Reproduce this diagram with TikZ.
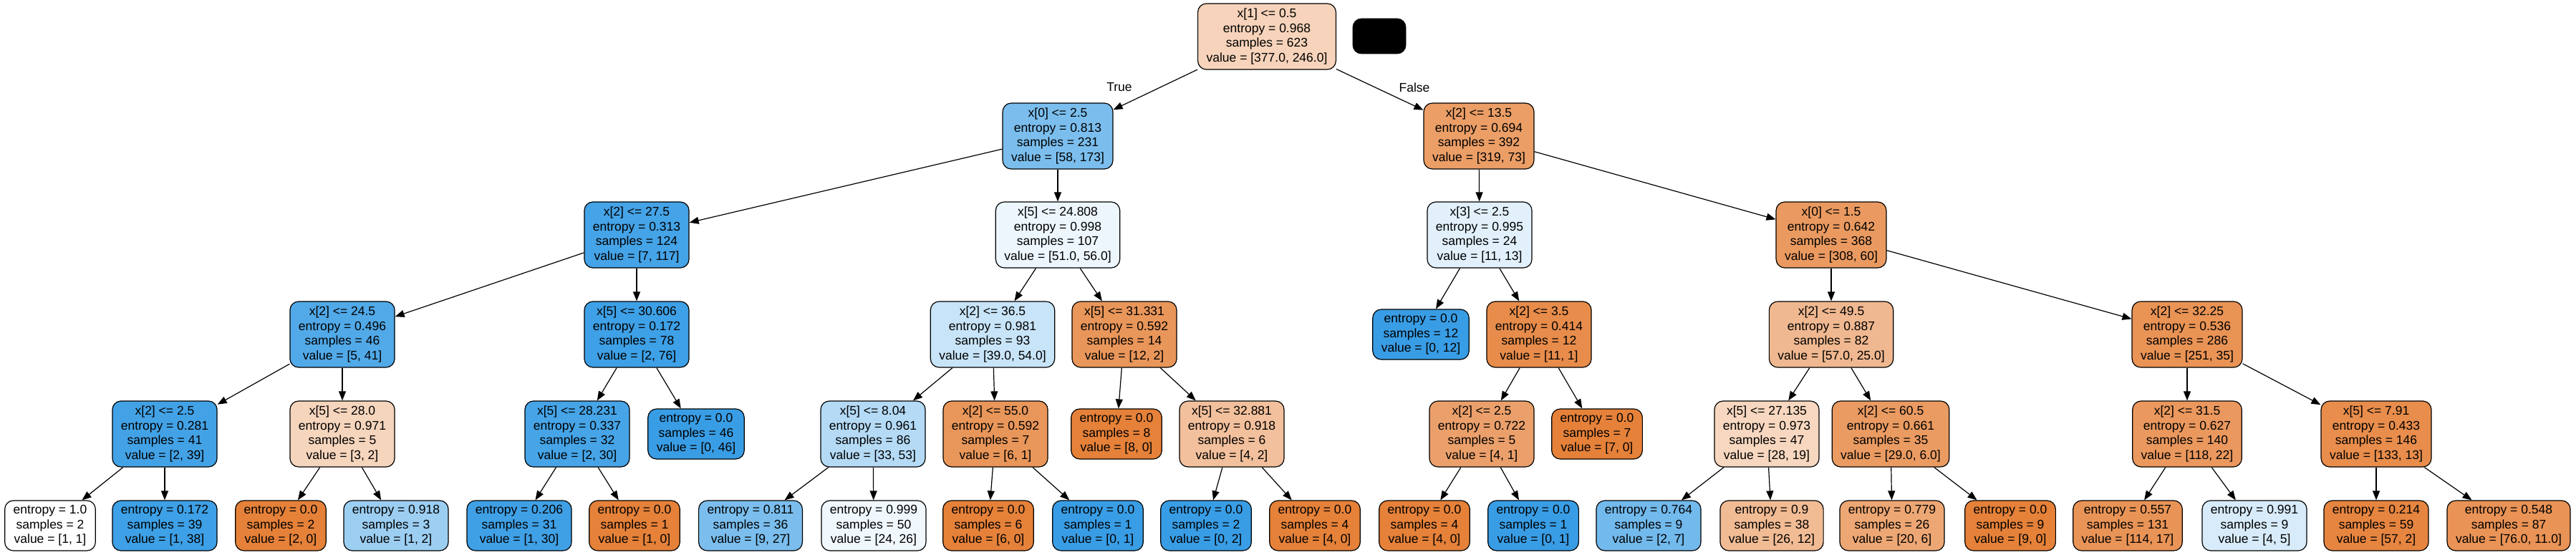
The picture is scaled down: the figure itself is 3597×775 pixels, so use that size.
\documentclass[tikz,border=0pt]{standalone}
\usepackage{fontspec}
\setmainfont{Liberation Sans}
\usetikzlibrary{arrows.meta}
\definecolor{co}{RGB}{229,129,57}
\definecolor{cb}{RGB}{57,157,229}
\begin{document}
\begin{tikzpicture}[x=0.5pt,y=-0.5pt,
  tn/.style={draw=black, line width=0.6pt, rounded corners=6pt, align=center,
    font=\fontsize{8.75pt}{10.2pt}\selectfont, inner xsep=6pt, inner ysep=0pt},
  inode/.style={tn, minimum height=46pt},
  leaf/.style={tn, minimum height=35pt},
  lbl/.style={font=\fontsize{8.75pt}{10.2pt}\selectfont, inner sep=0pt},
  conn/.style={-{Triangle[length=6.5pt,width=5pt]}, line width=0.6pt}]
\useasboundingbox (0,0) rectangle (3597,775);
% level 0
\node[inode, fill=co!34.7!white] (r) at (1769,51) {x[1] <= 0.5\\entropy = 0.968\\samples = 623\\value = [377.0, 246.0]};
\node[fill=black, draw=black, rounded corners=6pt, minimum width=37pt, minimum height=24.5pt, inner sep=0pt] (blk) at (1926,50.5) {};
\node[lbl] (tl) at (1563,122) {True};
\node[lbl] (fl) at (1975,122) {False};
% level 1
\node[inode, fill=cb!66.5!white] (A) at (1477,190) {x[0] <= 2.5\\entropy = 0.813\\samples = 231\\value = [58, 173]};
\node[inode, fill=co!77.1!white] (B) at (2065,190) {x[2] <= 13.5\\entropy = 0.694\\samples = 392\\value = [319, 73]};
% level 2
\node[inode, fill=cb!94!white] (A1) at (889,328) {x[2] <= 27.5\\entropy = 0.313\\samples = 124\\value = [7, 117]};
\node[inode, fill=cb!8.9!white] (A2) at (1477,328) {x[5] <= 24.808\\entropy = 0.998\\samples = 107\\value = [51.0, 56.0]};
\node[inode, fill=cb!15.4!white] (B1) at (2066,328) {x[3] <= 2.5\\entropy = 0.995\\samples = 24\\value = [11, 13]};
\node[inode, fill=co!80.5!white] (B2) at (2557,328) {x[0] <= 1.5\\entropy = 0.642\\samples = 368\\value = [308, 60]};
% level 3
\node[inode, fill=cb!87.8!white] (A1a) at (478,467) {x[2] <= 24.5\\entropy = 0.496\\samples = 46\\value = [5, 41]};
\node[inode, fill=cb!97.4!white] (A1b) at (889,467) {x[5] <= 30.606\\entropy = 0.172\\samples = 78\\value = [2, 76]};
\node[inode, fill=cb!27.8!white] (A2a) at (1386,467) {x[2] <= 36.5\\entropy = 0.981\\samples = 93\\value = [39.0, 54.0]};
\node[inode, fill=co!83.3!white] (A2b) at (1570,467) {x[5] <= 31.331\\entropy = 0.592\\samples = 14\\value = [12, 2]};
\node[leaf, fill=cb] (B1a) at (1984,467) {entropy = 0.0\\samples = 12\\value = [0, 12]};
\node[inode, fill=co!90.9!white] (B1b) at (2149,467) {x[2] <= 3.5\\entropy = 0.414\\samples = 12\\value = [11, 1]};
\node[inode, fill=co!56.1!white] (B2a) at (2557,467) {x[2] <= 49.5\\entropy = 0.887\\samples = 82\\value = [57.0, 25.0]};
\node[inode, fill=co!86.1!white] (B2b) at (3054,467) {x[2] <= 32.25\\entropy = 0.536\\samples = 286\\value = [251, 35]};
% level 4
\node[inode, fill=cb!94.9!white] (n1) at (230,606) {x[2] <= 2.5\\entropy = 0.281\\samples = 41\\value = [2, 39]};
\node[inode, fill=co!33.3!white] (n2) at (478,606) {x[5] <= 28.0\\entropy = 0.971\\samples = 5\\value = [3, 2]};
\node[inode, fill=cb!93.3!white] (n3) at (806,606) {x[5] <= 28.231\\entropy = 0.337\\samples = 32\\value = [2, 30]};
\node[leaf, fill=cb] (n4) at (972,606) {entropy = 0.0\\samples = 46\\value = [0, 46]};
\node[inode, fill=cb!37.7!white] (n5) at (1219,606) {x[5] <= 8.04\\entropy = 0.961\\samples = 86\\value = [33, 53]};
\node[inode, fill=co!83.3!white] (n6) at (1390,606) {x[2] <= 55.0\\entropy = 0.592\\samples = 7\\value = [6, 1]};
\node[leaf, fill=co] (n7) at (1559,606) {entropy = 0.0\\samples = 8\\value = [8, 0]};
\node[inode, fill=co!50!white] (n8) at (1720,606) {x[5] <= 32.881\\entropy = 0.918\\samples = 6\\value = [4, 2]};
\node[inode, fill=co!75!white] (n9) at (2069,606) {x[2] <= 2.5\\entropy = 0.722\\samples = 5\\value = [4, 1]};
\node[leaf, fill=co] (n10) at (2230,606) {entropy = 0.0\\samples = 7\\value = [7, 0]};
\node[inode, fill=co!32.1!white] (n11) at (2467,606) {x[5] <= 27.135\\entropy = 0.973\\samples = 47\\value = [28, 19]};
\node[inode, fill=co!79.3!white] (n12) at (2640,606) {x[2] <= 60.5\\entropy = 0.661\\samples = 35\\value = [29.0, 6.0]};
\node[inode, fill=co!81.4!white] (n13) at (3054,606) {x[2] <= 31.5\\entropy = 0.627\\samples = 140\\value = [118, 22]};
\node[inode, fill=co!90.2!white] (n14) at (3318,606) {x[5] <= 7.91\\entropy = 0.433\\samples = 146\\value = [133, 13]};
% level 5
\node[leaf, fill=white] (m1) at (70,734) {entropy = 1.0\\samples = 2\\value = [1, 1]};
\node[leaf, fill=cb!97.4!white] (m2) at (230,734) {entropy = 0.172\\samples = 39\\value = [1, 38]};
\node[leaf, fill=co] (m3) at (392,734) {entropy = 0.0\\samples = 2\\value = [2, 0]};
\node[leaf, fill=cb!50!white] (m4) at (553,734) {entropy = 0.918\\samples = 3\\value = [1, 2]};
\node[leaf, fill=cb!96.7!white] (m5) at (725,734) {entropy = 0.206\\samples = 31\\value = [1, 30]};
\node[leaf, fill=co] (m6) at (886,734) {entropy = 0.0\\samples = 1\\value = [1, 0]};
\node[leaf, fill=cb!66.7!white] (m7) at (1048,734) {entropy = 0.811\\samples = 36\\value = [9, 27]};
\node[leaf, fill=cb!7.7!white] (m8) at (1220,734) {entropy = 0.999\\samples = 50\\value = [24, 26]};
\node[leaf, fill=co] (m9) at (1380,734) {entropy = 0.0\\samples = 6\\value = [6, 0]};
\node[leaf, fill=cb] (m10) at (1533,734) {entropy = 0.0\\samples = 1\\value = [0, 1]};
\node[leaf, fill=cb] (m11) at (1684,734) {entropy = 0.0\\samples = 2\\value = [0, 2]};
\node[leaf, fill=co] (m12) at (1836,734) {entropy = 0.0\\samples = 4\\value = [4, 0]};
\node[leaf, fill=co] (m13) at (1989,734) {entropy = 0.0\\samples = 4\\value = [4, 0]};
\node[leaf, fill=cb] (m14) at (2141,734) {entropy = 0.0\\samples = 1\\value = [0, 1]};
\node[leaf, fill=cb!71.4!white] (m15) at (2302,734) {entropy = 0.764\\samples = 9\\value = [2, 7]};
\node[leaf, fill=co!53.8!white] (m16) at (2474,734) {entropy = 0.9\\samples = 38\\value = [26, 12]};
\node[leaf, fill=co!70!white] (m17) at (2642,734) {entropy = 0.779\\samples = 26\\value = [20, 6]};
\node[leaf, fill=co] (m18) at (2807,734) {entropy = 0.0\\samples = 9\\value = [9, 0]};
\node[leaf, fill=co!85.1!white] (m19) at (2971,734) {entropy = 0.557\\samples = 131\\value = [114, 17]};
\node[leaf, fill=cb!20!white] (m20) at (3148,734) {entropy = 0.991\\samples = 9\\value = [4, 5]};
\node[leaf, fill=co!96.5!white] (m21) at (3318,734) {entropy = 0.214\\samples = 59\\value = [57, 2]};
\node[leaf, fill=co!85.5!white] (m22) at (3503,734) {entropy = 0.548\\samples = 87\\value = [76.0, 11.0]};
% connectors
\foreach \p/\c in {r/A, r/B, A/A1, A/A2, B/B1, B/B2,
  A1/A1a, A1/A1b, A2/A2a, A2/A2b, B1/B1a, B1/B1b, B2/B2a, B2/B2b,
  A1a/n1, A1a/n2, A1b/n3, A1b/n4, A2a/n5, A2a/n6, A2b/n7, A2b/n8,
  B1b/n9, B1b/n10, B2a/n11, B2a/n12, B2b/n13, B2b/n14,
  n1/m1, n1/m2, n2/m3, n2/m4, n3/m5, n3/m6, n5/m7, n5/m8, n6/m9, n6/m10,
  n8/m11, n8/m12, n9/m13, n9/m14, n11/m15, n11/m16, n12/m17, n12/m18,
  n13/m19, n13/m20, n14/m21, n14/m22}
  \draw[conn] (\p) -- (\c);
\end{tikzpicture}
\end{document}
